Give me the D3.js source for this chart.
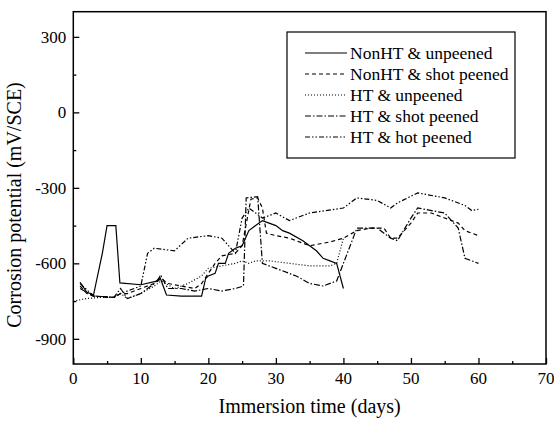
<!DOCTYPE html>
<html>
<head>
<meta charset="utf-8">
<script src="https://cdn.jsdelivr.net/npm/d3@7"></script>
<style>
body { margin: 0; background: #fff; }
svg text { font-family: "Liberation Serif", "Times New Roman", serif; fill: #000; }
.line { fill: none; stroke: #000; stroke-width: 1.2; }
</style>
</head>
<body>
<div id="chart"></div>
<script>
const width = 554, height = 422;
const margin = {top: 11.7, right: 8, bottom: 58, left: 73.3};

// series: [day, mV]
const nonhtUnpeened = [[1,-675],[2,-715],[3,-725],[4.3,-560],[5,-450],[6.3,-450],[6.9,-678],[10,-685],[12.5,-670],[12.8,-653],[13.8,-726],[16,-730],[19,-730],[19.6,-660],[20,-650],[21,-640],[21.5,-600],[22.5,-600],[23,-560],[24,-540],[25,-530],[26,-470],[27,-450],[28,-430],[29,-440],[30,-450],[31,-470],[32,-480],[34,-510],[36,-550],[37,-580],[38,-590],[39,-600],[40,-700]];
const nonhtShot = [[1,-690],[2,-720],[3,-730],[5,-735],[6,-735],[7,-720],[8,-720],[10,-700],[12,-680],[13,-660],[14,-680],[16,-690],[18,-700],[19,-680],[20,-640],[21,-600],[22,-570],[24,-560],[25,-530],[26.3,-345],[27.3,-340],[28,-380],[28.6,-480],[30,-490],[32,-500],[35,-530],[38,-515],[40,-500],[42,-470],[44,-460],[46,-460],[47,-500],[48,-500],[50,-440],[51,-400],[53,-400],[55,-420],[57,-440],[58,-470],[60,-490]];
const htUnpeened = [[0,-750],[2,-740],[4,-735],[6,-735],[7,-720],[8,-740],[10,-720],[12,-690],[13,-670],[15,-700],[17,-680],[19,-650],[20,-620],[22,-610],[24,-600],[25,-590],[26,-600],[27,-590],[29,-590],[32,-600],[35,-610],[38,-610],[39,-600],[40,-500]];
const htShot = [[1,-700],[3,-730],[6,-735],[7,-700],[8,-740],[10,-720],[12,-680],[13,-650],[14,-700],[16,-700],[18,-710],[20,-700],[22,-710],[24,-700],[25.2,-690],[25.6,-340],[27.3,-335],[28,-600],[30,-620],[33,-650],[35,-680],[37,-690],[39,-670],[40,-600],[42,-460],[45,-460],[47,-500],[48,-510],[50,-420],[51,-380],[55,-400],[57,-460],[58,-580],[60,-600]];
const htHot = [[1,-680],[3,-730],[6,-735],[7,-720],[10,-690],[11,-560],[12,-540],[15,-550],[17,-500],[20,-490],[22,-500],[24,-560],[25,-420],[26,-380],[28,-420],[30,-400],[32,-430],[35,-400],[40,-380],[42,-340],[45,-350],[47,-380],[48,-360],[51,-320],[55,-340],[58,-370],[59,-390],[60,-385]];

const seriesNames = ["NonHT & unpeened", "NonHT & shot peened", "HT & unpeened", "HT & shot peened", "HT & hot peened"];
const seriesData = [nonhtUnpeened, nonhtShot, htUnpeened, htShot, htHot];
const dashes = ["none", "4,3", "1,2", "6,2,1.5,2", "5,2,1.5,2,1.5,2"];

const xTicks = [0, 10, 20, 30, 40, 50, 60, 70];
const yTicks = [-900, -600, -300, 0, 300];

const svg = d3.select("#chart").append("svg")
.attr("width", width)
.attr("height", height);

const x = d3.scaleLinear().domain([0, 70]).range([margin.left, width - margin.right]);
const y = d3.scaleLinear().domain([-1000, 400]).range([height - margin.bottom, margin.top]);

// frame
svg.append("rect")
.attr("x", x(0)).attr("y", y(400))
.attr("width", x(70) - x(0)).attr("height", y(-1000) - y(400))
.attr("fill", "none").attr("stroke", "#000").attr("stroke-width", 1.5);

// x axis, ticks pointing inward
const xAxis = svg.append("g")
.attr("transform", `translate(0,${y(-1000)})`)
.call(d3.axisTop(x).tickValues(xTicks).tickSize(6).tickFormat(""));
xAxis.append("g").call(d3.axisTop(x).tickValues(d3.range(5, 70, 10)).tickSize(3).tickFormat(""));
xAxis.selectAll(".domain").remove();
xAxis.selectAll("line").attr("stroke-width", 1.3);
svg.append("g").selectAll("text")
.data(xTicks)
.join("text")
.attr("x", d => x(d))
.attr("y", y(-1000) + 20)
.attr("text-anchor", "middle")
.attr("font-size", 17)
.text(d => d);

const yAxis = svg.append("g")
.attr("transform", `translate(${x(0)},0)`)
.call(d3.axisRight(y).tickValues(yTicks).tickSize(6).tickFormat(""));
yAxis.append("g").call(d3.axisRight(y).tickValues([-750, -450, -150, 150]).tickSize(3).tickFormat(""));
yAxis.selectAll(".domain").remove();
yAxis.selectAll("line").attr("stroke-width", 1.3);
svg.append("g").selectAll("text")
.data(yTicks)
.join("text")
.attr("x", x(0) - 7)
.attr("y", d => y(d) + 6)
.attr("text-anchor", "end")
.attr("font-size", 17)
.text(d => d);

// axis titles
svg.append("text")
.attr("x", (x(0) + x(70)) / 2)
.attr("y", 413)
.attr("text-anchor", "middle")
.attr("font-size", 20)
.text("Immersion time (days)");
svg.append("text")
.attr("transform", `translate(21,205) rotate(-90)`)
.attr("text-anchor", "middle")
.attr("font-size", 20)
.text("Corrosion potential (mV/SCE)");

// lines
const line = d3.line().x(d => x(d[0])).y(d => y(d[1]));
svg.append("g").selectAll("path")
.data(seriesData)
.join("path")
.attr("class", "line")
.attr("stroke-dasharray", (d, i) => dashes[i])
.attr("d", line);

// legend
const legend = svg.append("g");
legend.append("rect")
.attr("x", 287).attr("y", 32).attr("width", 228).attr("height", 126)
.attr("fill", "#fff").attr("stroke", "#000").attr("stroke-width", 1.2);
const items = legend.selectAll("g.item")
.data(seriesNames)
.join("g")
.attr("class", "item")
.attr("transform", (d, i) => `translate(0,${53 + i * 21})`);
items.append("line")
.attr("x1", 305).attr("x2", 347)
.attr("stroke", "#000").attr("stroke-width", 1.2)
.attr("stroke-dasharray", (d, i) => dashes[i]);
items.append("text")
.attr("x", 350).attr("y", 6)
.attr("font-size", 17.5)
.text(d => d);
</script>
</body>
</html>
